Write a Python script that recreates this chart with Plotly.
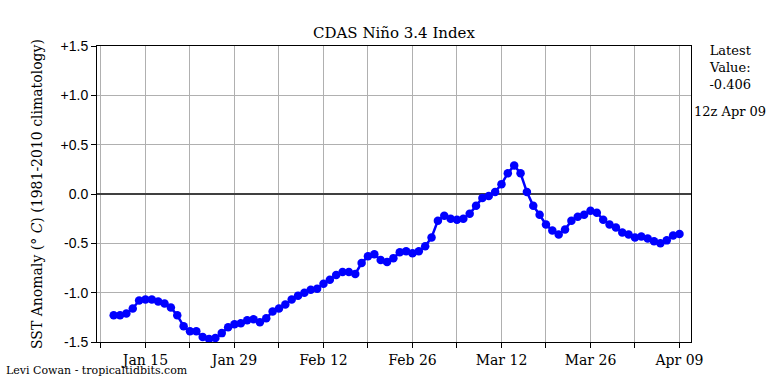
import plotly.graph_objects as go
import pandas as pd

start_date = "2025-01-10"
values = [
    -1.23, -1.23, -1.21, -1.16, -1.08, -1.07, -1.07, -1.09, -1.11, -1.15,
    -1.23, -1.34, -1.39, -1.39, -1.45, -1.47, -1.46, -1.41, -1.35, -1.32,
    -1.31, -1.28,
    -1.27, -1.30, -1.26, -1.19, -1.16, -1.12, -1.07, -1.03, -1.00, -0.97,
    -0.96, -0.91, -0.87, -0.82, -0.79, -0.79, -0.81, -0.70, -0.63, -0.61,
    -0.67, -0.69, -0.65, -0.59,
    -0.58, -0.60, -0.58, -0.53, -0.44, -0.27, -0.22, -0.25, -0.26, -0.25,
    -0.20, -0.12, -0.04, -0.02, 0.02, 0.10, 0.21, 0.29, 0.21, 0.02,
    -0.12, -0.21, -0.31,
    -0.37, -0.41, -0.36, -0.27, -0.23, -0.21, -0.17, -0.19, -0.26, -0.31,
    -0.34, -0.39, -0.41, -0.44, -0.43, -0.45, -0.48, -0.50, -0.47, -0.42,
    -0.406,
]
dates = pd.date_range(start_date, periods=len(values), freq="D")

tick_dates = pd.date_range("2025-01-08", "2025-04-09", freq="7D")
tick_text = ["" if i % 2 == 0 else d.strftime("%b %d") for i, d in enumerate(tick_dates)]
y_tickvals = [1.5, 1.0, 0.5, 0.0, -0.5, -1.0, -1.5]
y_ticktext = ["+1.5", "+1.0", "+0.5", "0.0", "-0.5", "-1.0", "-1.5"]

title_text = "CDAS Niño 3.4 Index"
ylabel = "SST Anomaly (<i>° C</i>) (1981-2010 climatology)"
latest_text = "Latest<br>Value:<br>-0.406"
time_text = "12z Apr 09"
credit = "Levi Cowan - tropicaltidbits.com"

serif = "DejaVu Serif"
L, R, T, B = 97, 691, 46, 342


def px_to_paper(xp, yp):
    return (xp - L) / (R - L), (B - yp) / (B - T)


fig = go.Figure()
fig.add_trace(go.Scatter(
    x=dates, y=values, mode="lines+markers",
    line=dict(color="#0000ff", width=2.5),
    marker=dict(color="#0000ff", size=8.5),
    showlegend=False,
))

ann = []
x1, y1 = px_to_paper(730, 67)
ann.append(dict(text=latest_text, x=x1, y=y1, xref="paper", yref="paper", showarrow=False,
                xanchor="center", yanchor="middle", align="center",
                font=dict(family=serif, size=13, color="black")))
x2, y2 = px_to_paper(730, 111)
ann.append(dict(text=time_text, x=x2, y=y2, xref="paper", yref="paper", showarrow=False,
                xanchor="center", yanchor="middle",
                font=dict(family=serif, size=13, color="black")))
x3, y3 = px_to_paper(4, 370)
ann.append(dict(text=credit, x=x3, y=y3, xref="paper", yref="paper", showarrow=False,
                xanchor="left", yanchor="middle",
                font=dict(family=serif, size=11, color="black")))
x4, y4 = px_to_paper(37, 194)
ann.append(dict(text=ylabel, x=x4, y=y4, xref="paper", yref="paper", showarrow=False,
                xanchor="center", yanchor="middle", textangle=-90,
                font=dict(family=serif, size=14, color="black")))
x5, y5 = px_to_paper(394, 33)
ann.append(dict(text=title_text, x=x5, y=y5, xref="paper", yref="paper", showarrow=False,
                xanchor="center", yanchor="middle",
                font=dict(family=serif, size=15, color="black")))

fig.update_layout(
    width=768, height=384,
    margin=dict(l=L, r=768 - R, t=T, b=384 - B),
    paper_bgcolor="white", plot_bgcolor="white",
    xaxis=dict(
        range=["2025-01-07 09:00", "2025-04-10 19:30"],
        tickmode="array", tickvals=tick_dates, ticktext=tick_text,
        ticks="outside", ticklen=5, tickcolor="black", tickwidth=1,
        showgrid=True, gridcolor="#b0b0b0", gridwidth=1,
        showline=True, linecolor="black", linewidth=1, mirror=True,
        tickfont=dict(family=serif, size=14, color="black"),
        zeroline=False, automargin=False,
    ),
    yaxis=dict(
        range=[-1.5, 1.5],
        tickmode="array", tickvals=y_tickvals, ticktext=y_ticktext,
        ticks="outside", ticklen=5, tickcolor="black", tickwidth=1,
        showgrid=True, gridcolor="#b0b0b0", gridwidth=1,
        showline=True, linecolor="black", linewidth=1, mirror=True,
        tickfont=dict(family="Liberation Sans", size=14, color="black"),
        zeroline=True, zerolinecolor="#404040", zerolinewidth=1.5,
        automargin=False,
    ),
    annotations=ann,
)

fig.write_html("out.html", config={"displayModeBar": False},
               post_script="document.body.style.margin='0';")
